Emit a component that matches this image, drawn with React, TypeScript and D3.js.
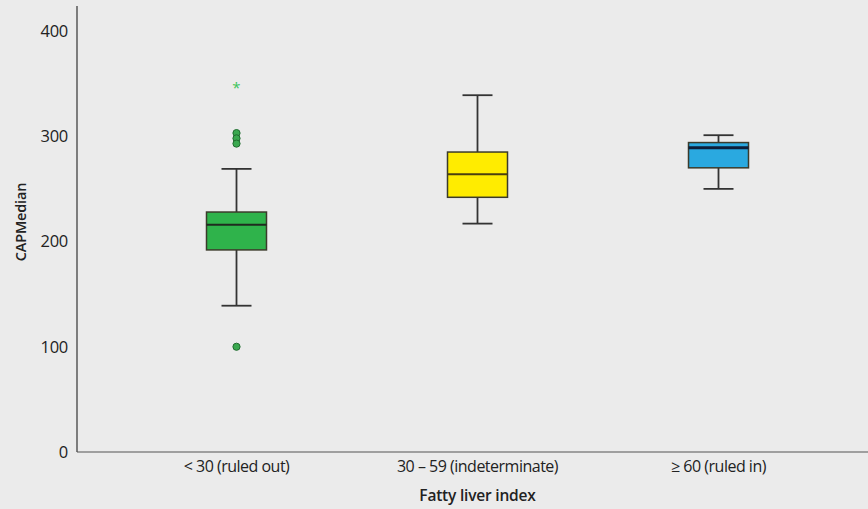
import React from 'react';
import * as d3 from 'd3';

const categories = ['< 30 (ruled out)', '30 – 59 (indeterminate)', '≥ 60 (ruled in)'];
const whiskerLow = [139, 217, 250];
const q1 = [192, 242, 270];
const medians = [216, 264, 289];
const q3 = [228, 285, 294];
const whiskerHigh = [269, 339, 301];
const boxColors = ['#2fb34b', '#ffec00', '#2aa9e0'];
const medianColors = ['#1f2a1f', '#4a3f10', '#0d1f3a'];
// outliers: [group index, value]
const circleOutliers: [number, number][] = [[0, 303], [0, 298], [0, 293], [0, 100]];
const starOutliers: [number, number][] = [[0, 350]];
const yTicks = [0, 100, 200, 300, 400];

const W = 868;
const H = 509;
const margin = { left: 77, top: 6, bottom: 57 };
const font = '"Open Sans", "Noto Sans", sans-serif';

const App: React.FC = () => {
  const ref = React.useRef<SVGSVGElement>(null);

  React.useEffect(() => {
    const svg = d3.select(ref.current!);
    svg.selectAll('*').remove();

    const x = d3.scaleBand().domain(categories).range([116, 839]).padding(0);
    const y = d3.scaleLinear().domain([0, 400]).range([H - margin.bottom, 31]);
    const cx = (i: number) => (x(categories[i]) ?? 0) + x.bandwidth() / 2;
    const boxW = 60;
    const capW = 30;

    svg.append('rect').attr('width', W).attr('height', H).attr('fill', '#ebebeb');

    // axes
    svg.append('line')
      .attr('x1', margin.left).attr('x2', margin.left)
      .attr('y1', margin.top).attr('y2', y(0))
      .attr('stroke', '#333').attr('stroke-width', 1.2);
    svg.append('line')
      .attr('x1', margin.left).attr('x2', W)
      .attr('y1', y(0)).attr('y2', y(0))
      .attr('stroke', '#555').attr('stroke-width', 1.2);

    svg.append('g').selectAll('text')
      .data(yTicks)
      .join('text')
      .attr('x', 68)
      .attr('y', d => y(d))
      .attr('dy', '0.36em')
      .attr('text-anchor', 'end')
      .attr('font-family', font)
      .attr('font-size', 16.5)
      .attr('letter-spacing', -0.3)
      .attr('fill', '#222')
      .text(d => d);

    svg.append('g').selectAll('text')
      .data(categories)
      .join('text')
      .attr('x', (_, i) => cx(i))
      .attr('y', 472)
      .attr('text-anchor', 'middle')
      .attr('font-family', font)
      .attr('font-size', 16)
      .attr('letter-spacing', -0.5)
      .attr('fill', '#222')
      .text(d => d);

    svg.append('text')
      .attr('x', cx(1)).attr('y', 501)
      .attr('text-anchor', 'middle')
      .attr('font-family', font).attr('font-size', 15.5).attr('font-weight', 600)
      .attr('letter-spacing', -0.2)
      .attr('fill', '#222')
      .text('Fatty liver index');

    svg.append('text')
      .attr('transform', `translate(26, 222) rotate(-90)`)
      .attr('text-anchor', 'middle')
      .attr('font-family', font).attr('font-size', 14.5).attr('font-weight', 600)
      .attr('letter-spacing', -0.2)
      .attr('fill', '#222')
      .text('CAPMedian');

    const g = svg.append('g');
    categories.forEach((_, i) => {
      const c = cx(i);
      // whiskers
      g.append('line').attr('x1', c).attr('x2', c)
        .attr('y1', y(whiskerHigh[i])).attr('y2', y(q3[i]))
        .attr('stroke', '#333').attr('stroke-width', 1.8);
      g.append('line').attr('x1', c).attr('x2', c)
        .attr('y1', y(q1[i])).attr('y2', y(whiskerLow[i]))
        .attr('stroke', '#333').attr('stroke-width', 1.8);
      [whiskerHigh[i], whiskerLow[i]].forEach(v => {
        g.append('line').attr('x1', c - capW / 2).attr('x2', c + capW / 2)
          .attr('y1', y(v)).attr('y2', y(v))
          .attr('stroke', '#333').attr('stroke-width', 1.8);
      });
      // box
      g.append('rect')
        .attr('x', c - boxW / 2).attr('width', boxW)
        .attr('y', y(q3[i])).attr('height', y(q1[i]) - y(q3[i]))
        .attr('fill', boxColors[i])
        .attr('stroke', '#3b3b2b').attr('stroke-width', 1.5);
      g.append('line')
        .attr('x1', c - boxW / 2).attr('x2', c + boxW / 2)
        .attr('y1', y(medians[i])).attr('y2', y(medians[i]))
        .attr('stroke', medianColors[i]).attr('stroke-width', i === 2 ? 3 : 2);
    });

    g.selectAll('circle.out')
      .data(circleOutliers)
      .join('circle')
      .attr('class', 'out')
      .attr('cx', d => cx(d[0]))
      .attr('cy', d => y(d[1]))
      .attr('r', 3.6)
      .attr('fill', '#3aa84f')
      .attr('stroke', '#1f6b2e')
      .attr('stroke-width', 1);

    g.selectAll('text.star')
      .data(starOutliers)
      .join('text')
      .attr('class', 'star')
      .attr('x', d => cx(d[0]))
      .attr('y', d => y(d[1]))
      .attr('dy', '0.6em')
      .attr('text-anchor', 'middle')
      .attr('font-family', font)
      .attr('font-size', 15)
      .attr('fill', '#3cc45a')
      .text('*');
  }, []);

  return (
    <svg
      ref={ref}
      width={W}
      height={H}
      style={{ display: 'block', position: 'absolute', left: 0, top: 0 }}
    />
  );
};

export default App;
